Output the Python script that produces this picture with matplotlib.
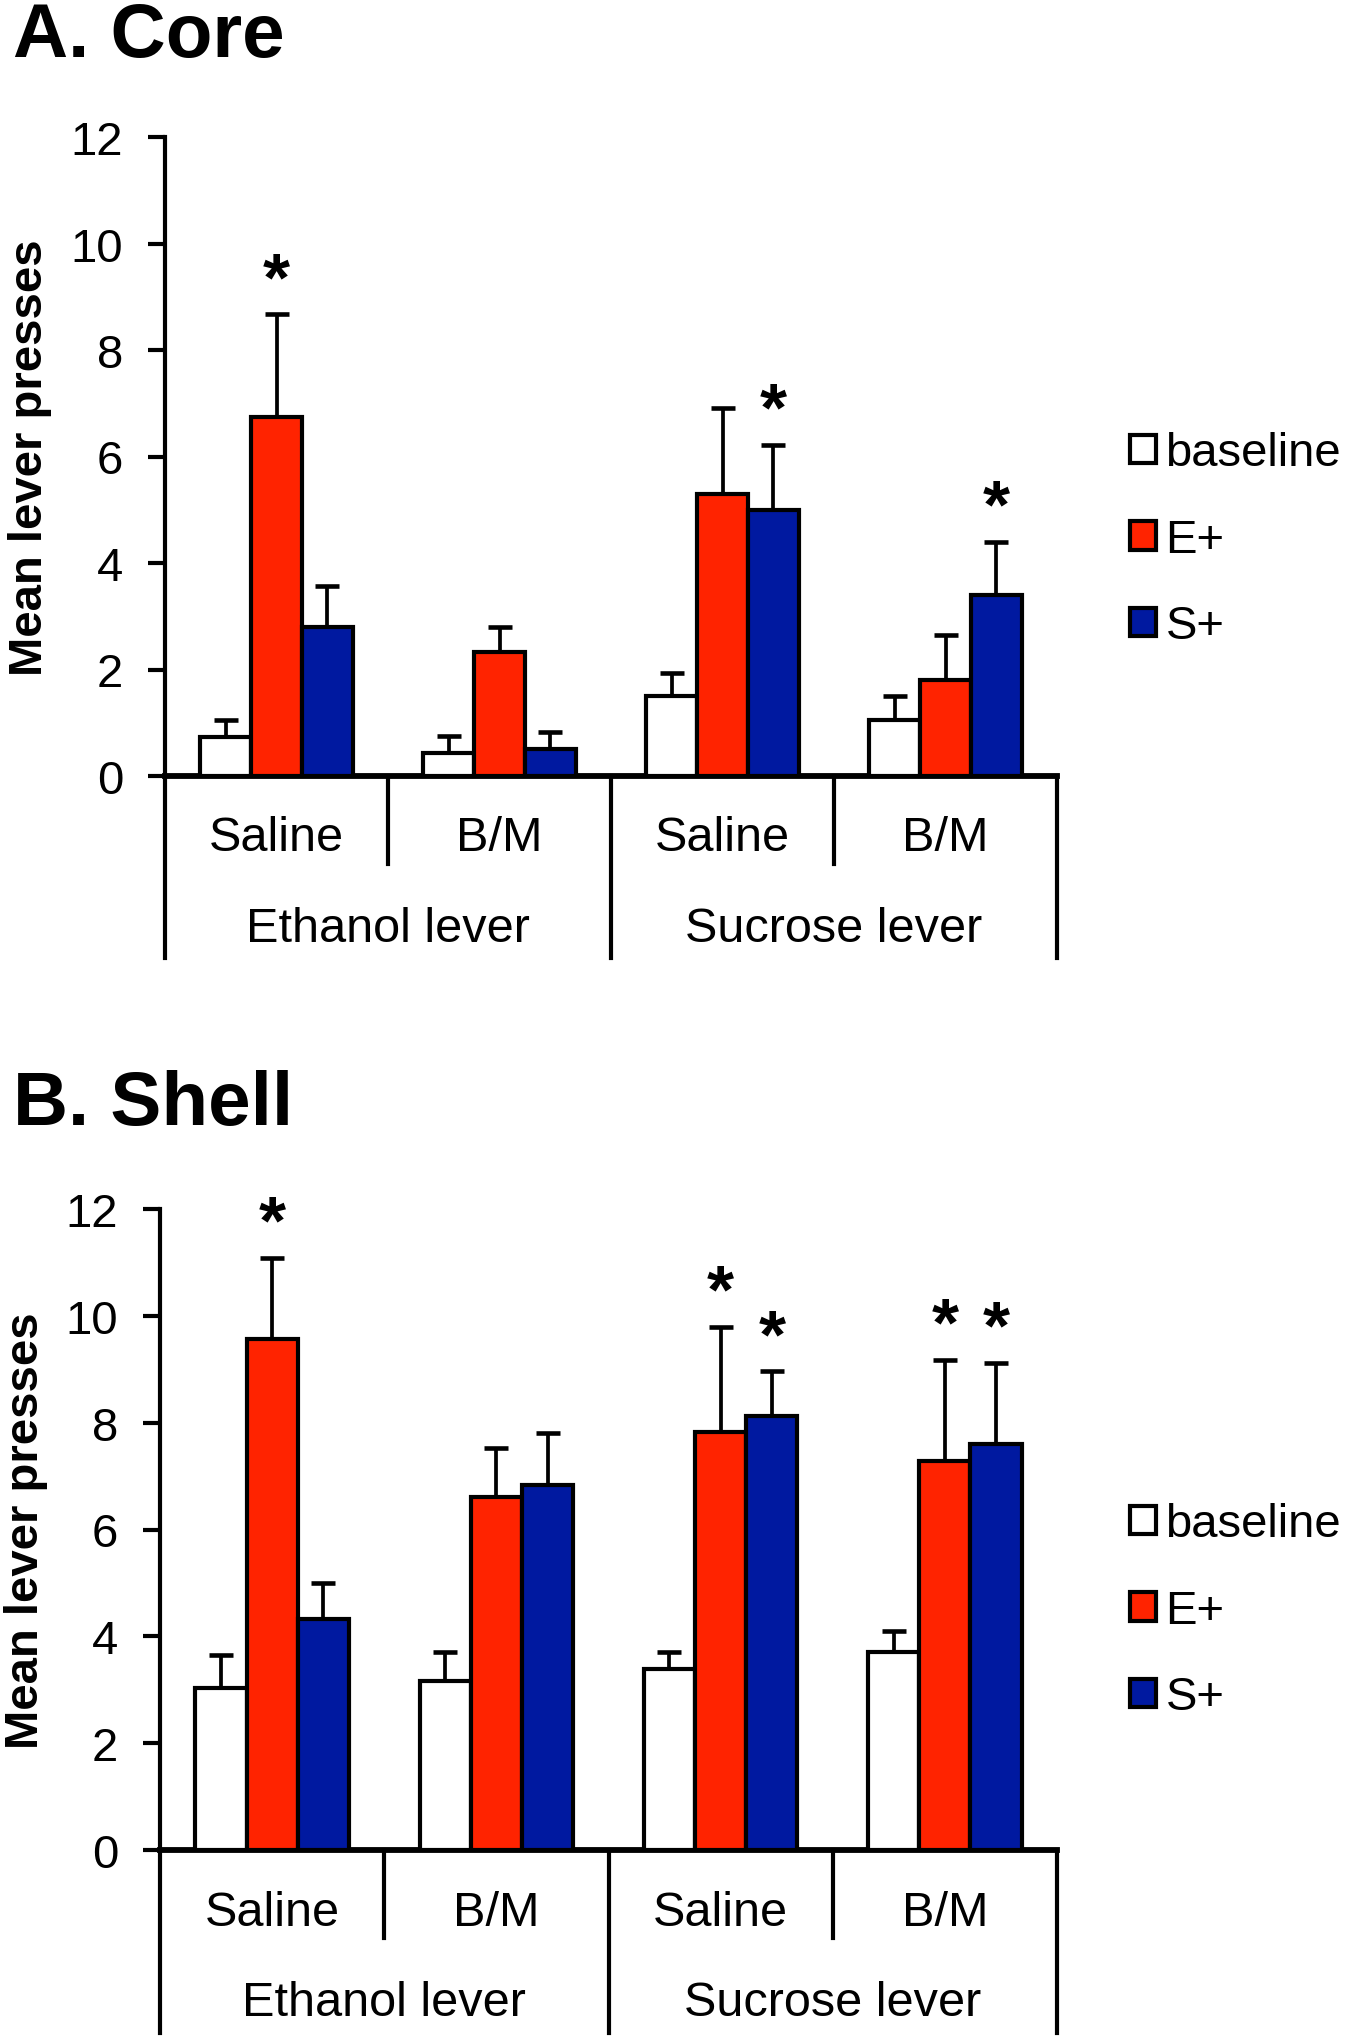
import numpy as np
import matplotlib
matplotlib.use("Agg")
import matplotlib.pyplot as plt
import matplotlib.transforms as mtransforms
from matplotlib.patches import Patch

plt.rcParams['font.family'] = ['Liberation Sans', 'DejaVu Sans']

# groups along the x axis
conditions = ["Saline", "B/M", "Saline", "B/M"]
levers = ["Ethanol lever", "Sucrose lever"]
series = ["baseline", "E+", "S+"]
colors = ["#FFFFFF", "#FF2300", "#0019A0"]

# A. Core
core_baseline = [0.73, 0.43, 1.50, 1.05]
core_eplus = [6.75, 2.32, 5.30, 1.80]
core_splus = [2.79, 0.50, 4.99, 3.40]
core_baseline_err = [0.33, 0.33, 0.44, 0.46]
core_eplus_err = [1.92, 0.47, 1.62, 0.85]
core_splus_err = [0.78, 0.32, 1.23, 0.99]
core_stars = [(0, 1), (2, 2), (3, 2)]  # (group, series)

# B. Shell
shell_baseline = [3.03, 3.17, 3.39, 3.70]
shell_eplus = [9.56, 6.60, 7.82, 7.28]
shell_splus = [4.32, 6.83, 8.13, 7.60]
shell_baseline_err = [0.62, 0.53, 0.31, 0.40]
shell_eplus_err = [1.52, 0.92, 1.98, 1.90]
shell_splus_err = [0.67, 0.98, 0.83, 1.52]
shell_stars = [(0, 1), (2, 1), (2, 2), (3, 1), (3, 2)]

W, H = 1355, 2040
fig = plt.figure(figsize=(W / 100, H / 100), dpi=100)

LW = 3.0
bw = 0.228


def panel(rect, title, title_y, vals, errs, stars, legend_y, ylab_x):
    ax = fig.add_axes(rect)
    x = np.arange(4)
    for k in range(3):
        xs = x + (k - 1) * bw
        ax.bar(xs, vals[k], width=bw, color=colors[k], edgecolor="black",
               linewidth=LW, zorder=3)
        ax.errorbar(xs, vals[k], yerr=[np.zeros(4), errs[k]], fmt="none",
                    ecolor="black", elinewidth=LW * 0.9, capsize=8.5,
                    capthick=LW * 1.1, zorder=2)
    for g, k in stars:
        top = vals[k][g] + errs[k][g]
        ax.annotate("*", (g + (k - 1) * bw, top), xytext=(0, 1),
                    textcoords="offset points", ha="center", va="bottom",
                    fontsize=50, fontweight="bold")
    ax.set_xlim(-0.5, 3.5)
    ax.set_ylim(0, 12)
    ax.set_yticks(range(0, 13, 2))
    ax.tick_params(axis="y", labelsize=34, length=12, width=LW, pad=18)
    ax.tick_params(axis="x", bottom=False, labelbottom=False)
    for s in ["top", "right"]:
        ax.spines[s].set_visible(False)
    ax.spines["left"].set_linewidth(LW)
    ax.spines["bottom"].set_linewidth(LW * 1.4)
    ax.set_ylabel("Mean lever presses", fontsize=34, fontweight="bold")
    ax.yaxis.set_label_coords(ylab_x, 0.5)

    trans = mtransforms.blended_transform_factory(ax.transData, ax.transAxes)
    for xb in [-0.5, 0.5, 1.5, 2.5, 3.5]:
        y1 = -0.138 if xb in (0.5, 2.5) else -0.285
        ax.plot([xb, xb], [0, y1], color="black", lw=LW, transform=trans,
                clip_on=False)
    for i, c in enumerate(conditions):
        ax.text(i, -0.097, c, transform=trans, ha="center", va="center",
                fontsize=35)
    for j, lv in enumerate(levers):
        ax.text(0.5 + 2 * j, -0.238, lv, transform=trans, ha="center",
                va="center", fontsize=35)

    fig.text(13 / W, title_y, title, fontsize=55, fontweight="bold",
             ha="left", va="center")

    handles = [Patch(facecolor=colors[k], edgecolor="black", linewidth=LW)
               for k in range(3)]
    fig.legend(handles, series, loc="center left",
               bbox_to_anchor=(1130 / W, legend_y), frameon=False,
               fontsize=34, handlelength=0.55, handleheight=0.55,
               handletextpad=0.2, labelspacing=0.9, borderpad=0,
               borderaxespad=0)
    return ax


panel([165 / W, 1 - 777 / H, (1057 - 165) / W, (777 - 138) / H],
      "A. Core", 1 - 38 / H,
      [core_baseline, core_eplus, core_splus],
      [core_baseline_err, core_eplus_err, core_splus_err],
      core_stars, 1 - 541 / H, -0.127)

panel([160 / W, 1 - 1851 / H, (1057 - 160) / W, (1851 - 1210) / H],
      "B. Shell", 1 - 1106 / H,
      [shell_baseline, shell_eplus, shell_splus],
      [shell_baseline_err, shell_eplus_err, shell_splus_err],
      shell_stars, 1 - 1612 / H, -0.125)

fig.savefig("out.png", dpi=100)
